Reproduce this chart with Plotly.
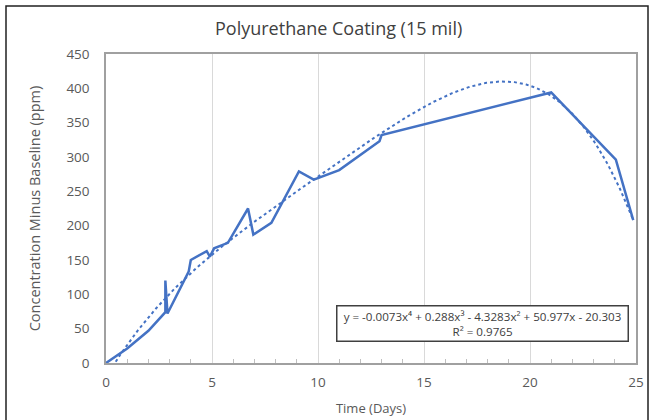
import numpy as np
import plotly.graph_objects as go

days = [0, 1.0, 2.0, 2.8, 2.8, 2.9, 3.9, 4.0, 4.75, 4.9, 5.1, 5.75, 6.7, 6.95, 7.8, 9.1, 9.8, 11.0, 12.9, 13.0, 21.0, 24.05, 24.87]
conc = [0, 21, 47, 74, 120, 72, 133, 150, 163, 155, 167, 175, 225, 187, 204, 279, 267, 281, 323, 332, 394, 296, 208]

# Polynomial trendline coefficients (highest power first), as printed on the chart
trend_coefs = [-0.0073, 0.288, -4.3283, 50.977, -20.303]
trend_label = "y = -0.0073x⁴ + 0.288x³ - 4.3283x² + 50.977x - 20.303<br>R² = 0.9765"

title_text = "Polyurethane Coating (15 mil)"
x_title = "Time (Days)"
y_title = "Concentration Minus Baseline (ppm)"

tx = np.linspace(min(days), max(days), 400)
ty = np.polyval(trend_coefs, tx)

blue = "#4472C4"
font_family = "Open Sans, Liberation Sans, sans-serif"

fig = go.Figure()
fig.add_trace(go.Scatter(x=days, y=conc, mode="lines",
                         line=dict(color=blue, width=2.5), showlegend=False))
fig.add_trace(go.Scatter(x=tx, y=ty, mode="lines",
                         line=dict(color=blue, width=2, dash="dot"), showlegend=False))

L, R, T, B = 106, 636, 54, 363
W, H = 657, 420
pw, ph = R - L, B - T

def px(xp):
    return (xp - L) / pw

def py(yp):
    return (B - yp) / ph

fig.update_layout(
    width=W, height=H,
    margin=dict(l=L, r=W - R, t=T, b=H - B),
    plot_bgcolor="white", paper_bgcolor="white",
    font=dict(family=font_family, color="#595959", size=12),
    xaxis=dict(range=[0, 25], dtick=5, showgrid=True, gridcolor="#D9D9D9", gridwidth=1,
               showline=True, linecolor="#A0A0A0", linewidth=1.5, mirror=True,
               ticks="", zeroline=False, ticklabelstandoff=6, automargin=False,
               minor=dict(dtick=1, ticks="inside", ticklen=4, tickcolor="#BFBFBF", showgrid=False),
               tickfont=dict(size=13.5, color="#595959"),
               title=dict(text=x_title, font=dict(size=13, color="#595959"), standoff=14)),
    yaxis=dict(range=[0, 450], dtick=50, showgrid=False, zeroline=False,
               showline=True, linecolor="#A0A0A0", linewidth=1.5, mirror=True,
               ticks="", ticklabelstandoff=12, automargin=False,
               tickfont=dict(size=13.5, color="#595959"),
               title=dict(text=y_title, font=dict(size=14.5, color="#595959"), standoff=22)),
    annotations=[
        dict(text=title_text, xref="paper", yref="paper", x=px(338), y=py(28),
             xanchor="center", yanchor="middle", showarrow=False,
             font=dict(size=18, color="#404040")),
        dict(text=trend_label, xref="paper", yref="paper", x=px(482), y=py(323.5),
             xanchor="center", yanchor="middle", showarrow=False, align="center",
             bordercolor="#404040", borderwidth=1.5, bgcolor="white", borderpad=2,
             width=286, font=dict(size=11.6, color="#404040")),
    ],
    shapes=[
        dict(type="rect", xref="paper", yref="paper",
             x0=px(6), x1=px(648), y0=py(440), y1=py(6),
             line=dict(color="#202020", width=1.5), fillcolor="rgba(0,0,0,0)", layer="above"),
    ],
)

fig.write_html("out.html")
